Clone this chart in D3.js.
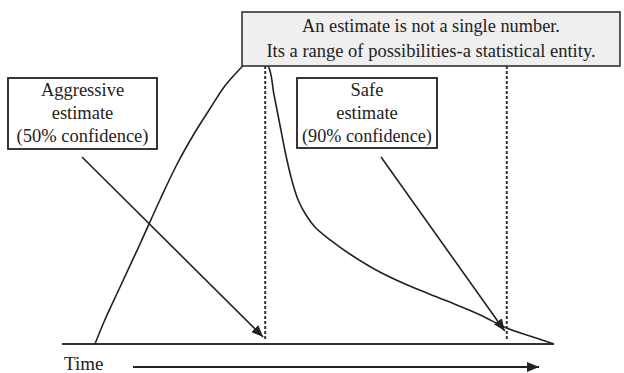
<!DOCTYPE html>
<html>
<head>
<meta charset="utf-8">
<script src="https://cdn.jsdelivr.net/npm/d3@7"></script>
<style>
  body { margin: 0; background: #fff; }
  svg { display: block; }
</style>
</head>
<body>
<svg width="624" height="373"></svg>
<script>
// time on x (0..100), likelihood on y (0..100)
const curveTime = [6.7, 8.7, 11.8, 15.9, 19.9, 23.4, 27.0, 30.1, 33.1, 36.6, 39.2,
  41.9, 43.1, 44.3, 45.5, 46.7, 48.0, 49.6, 51.4, 54.5, 58.5, 64.6, 70.7, 78.3, 85.0, 90.4, 95.1, 100];
const curveValue = [0, 8, 19, 33.5, 48, 60, 70.5, 78.5, 86, 92.5, 97,
  92.7, 83, 73, 63, 54.7, 48, 43, 39, 34.7, 30, 24, 19.3, 14.3, 9.7, 5.3, 2.7, 0];
const estimates = ['aggressive', 'safe'];
const estimateTime = [41.3, 90.4];
const estimateLabels = [
  ['Aggressive', 'estimate', '(50% confidence)'],
  ['Safe', 'estimate', '(90% confidence)']
];
const headline = ['An estimate is not a single number.', 'Its a range of possibilities-a statistical entity.'];
const axisLabel = 'Time';

const svg = d3.select('svg');
const x = d3.scaleLinear().domain([0, 100]).range([62, 554]);
const y = d3.scaleLinear().domain([0, 100]).range([344, 44]);
const ink = '#222';
const serif = "'Liberation Serif', Tinos, 'Times New Roman', 'DejaVu Serif', 'Noto Serif', serif";

// shrink a text until it fits the width it has in the picture
function fit(sel, maxW, size) {
  sel.style('font-size', size + 'px');
  let w = sel.node().getComputedTextLength();
  if (w > maxW) sel.style('font-size', (size * maxW / w).toFixed(2) + 'px');
}

svg.append('defs').append('marker')
    .attr('id', 'head')
    .attr('viewBox', '0 0 12 10')
    .attr('refX', 12).attr('refY', 5)
    .attr('markerWidth', 12).attr('markerHeight', 10)
    .attr('markerUnits', 'userSpaceOnUse')
    .attr('orient', 'auto')
  .append('path')
    .attr('d', 'M0,0 L12,5 L0,10 Z')
    .attr('fill', ink);

// baseline
svg.append('line')
    .attr('x1', x(0)).attr('x2', x(100))
    .attr('y1', y(0)).attr('y2', y(0))
    .attr('stroke', '#333').attr('stroke-width', 2);

// distribution curve
const pts = curveTime.map((t, i) => [t, curveValue[i]]);
svg.append('path')
    .datum(pts)
    .attr('d', d3.line().x(d => x(d[0])).y(d => y(d[1])).curve(d3.curveCatmullRom.alpha(0.5)))
    .attr('fill', 'none')
    .attr('stroke', ink)
    .attr('stroke-width', 1.6);

// dashed estimate markers
const boxBottom = 66;
estimateTime.forEach(t => {
  svg.append('line')
      .attr('x1', x(t)).attr('x2', x(t))
      .attr('y1', boxBottom).attr('y2', y(0) - 5)
      .attr('stroke', '#333').attr('stroke-width', 2)
      .attr('stroke-dasharray', '3,2');
});

// headline box
const hb = { x: 242, y: 12, w: 378, h: 54 };
svg.append('rect')
    .attr('x', hb.x).attr('y', hb.y).attr('width', hb.w).attr('height', hb.h)
    .attr('fill', '#efefef').attr('stroke', '#333').attr('stroke-width', 1.6);
headline.forEach((s, i) => {
  const t = svg.append('text')
      .attr('x', hb.x + hb.w / 2).attr('y', 32 + i * 25)
      .attr('text-anchor', 'middle')
      .attr('fill', ink)
      .attr('font-family', serif)
      .text(s);
  fit(t, [258, 334][i], 18.5);
});

// label boxes with arrows pointing at the estimates
const boxes = [{ x: 8, y: 78, w: 149, h: 71 }, { x: 297, y: 78, w: 140, h: 70 }];
const arrowFrom = [[82, 157], [381, 157]];
const arrowToValue = [4, 6];
estimates.forEach((e, k) => {
  const b = boxes[k];
  svg.append('rect')
      .attr('x', b.x).attr('y', b.y).attr('width', b.w).attr('height', b.h)
      .attr('fill', '#fff').attr('stroke', ink).attr('stroke-width', 1.8);
  estimateLabels[k].forEach((s, i) => {
    const t = svg.append('text')
        .attr('x', b.x + b.w / 2).attr('y', 96 + i * 23)
        .attr('text-anchor', 'middle')
        .attr('fill', ink)
        .attr('font-family', serif)
        .text(s);
    fit(t, b.w - 10, 18.5);
  });
  svg.append('line')
      .attr('x1', arrowFrom[k][0]).attr('y1', arrowFrom[k][1])
      .attr('x2', x(estimateTime[k]) - 2).attr('y2', y(arrowToValue[k]) + 5)
      .attr('stroke', ink).attr('stroke-width', 1.6)
      .attr('marker-end', 'url(#head)');
});

// time axis
svg.append('text')
    .attr('x', 64).attr('y', 370)
    .attr('fill', ink)
    .attr('font-family', serif)
    .style('font-size', '19px')
    .text(axisLabel);
svg.append('line')
    .attr('x1', 133).attr('x2', 539)
    .attr('y1', 367).attr('y2', 367)
    .attr('stroke', ink).attr('stroke-width', 2)
    .attr('marker-end', 'url(#head)');
</script>
</body>
</html>
